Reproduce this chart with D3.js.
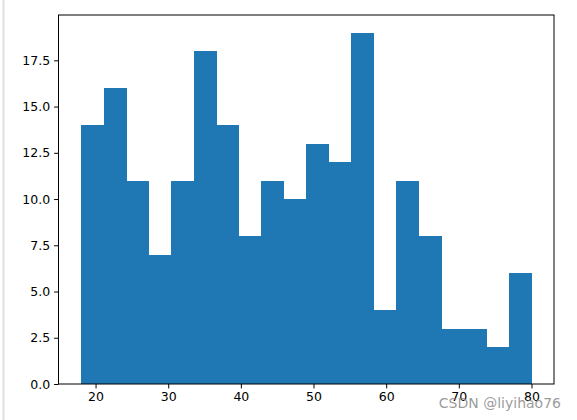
<!DOCTYPE html>
<html><head><meta charset="utf-8">
<script src="https://cdn.jsdelivr.net/npm/d3@7"></script>
<style>body{margin:0;background:#fff}svg{display:block}</style>
</head><body>
<script>
const binEdges = [18,21.1,24.2,27.3,30.4,33.5,36.6,39.7,42.8,45.9,49,52.1,55.2,58.3,61.4,64.5,67.6,70.7,73.8,76.9,80];
const counts = [14,16,11,7,11,18,14,8,11,10,13,12,19,4,11,8,3,3,2,6];
const xTicks = [20,30,40,50,60,70,80];
const yTicks = [0,2.5,5,7.5,10,12.5,15,17.5];
const xTickLabels = ["20","30","40","50","60","70","80"];
const yTickLabels = ["0.0","2.5","5.0","7.5","10.0","12.5","15.0","17.5"];

const W=577,H=420, L=58.5, R=554, T=15, B=384;
const svg=d3.select("body").append("svg").attr("width",W).attr("height",H);
svg.append("line").attr("x1",3.5).attr("x2",3.5).attr("y1",0).attr("y2",H).attr("stroke","#e0e0e0").attr("stroke-width",2);
const x=d3.scaleLinear().domain([14.9,83.1]).range([L,R]);
const y=d3.scaleLinear().domain([0,19.95]).range([B,T]);
const bars = counts.map((c,i)=>({x0:binEdges[i],x1:binEdges[i+1],c}));
svg.append("g").attr("shape-rendering","crispEdges").selectAll("rect").data(bars).join("rect")
  .attr("x",d=>x(d.x0)).attr("width",d=>x(d.x1)-x(d.x0)+0.5)
  .attr("y",d=>y(d.c)).attr("height",d=>y(0)-y(d.c)).attr("fill","#1f77b4");
const font="DejaVu Sans";
const xa=svg.append("g").attr("transform",`translate(0,${B})`)
  .call(d3.axisBottom(x).tickValues(xTicks).tickFormat((d,i)=>xTickLabels[i]).tickSize(4.4).tickPadding(4));
const ya=svg.append("g").attr("transform",`translate(${L},0)`)
  .call(d3.axisLeft(y).tickValues(yTicks).tickFormat((d,i)=>yTickLabels[i]).tickSize(4.4).tickPadding(4));
[xa,ya].forEach(a=>{a.select(".domain").remove();a.selectAll("line").attr("stroke","#000").attr("stroke-width",1);
  a.selectAll("text").attr("font-family",font).attr("font-size",12.5).attr("fill","#000");});
svg.append("rect").attr("x",L).attr("y",T).attr("width",R-L).attr("height",B-T)
  .attr("fill","none").attr("stroke","#000").attr("stroke-width",1);
svg.append("text").attr("x",561).attr("y",408).attr("text-anchor","end")
  .attr("font-family",font).attr("font-size",14).attr("fill","#888").attr("fill-opacity",0.85).text("CSDN @liyihao76");
</script>
</body></html>
